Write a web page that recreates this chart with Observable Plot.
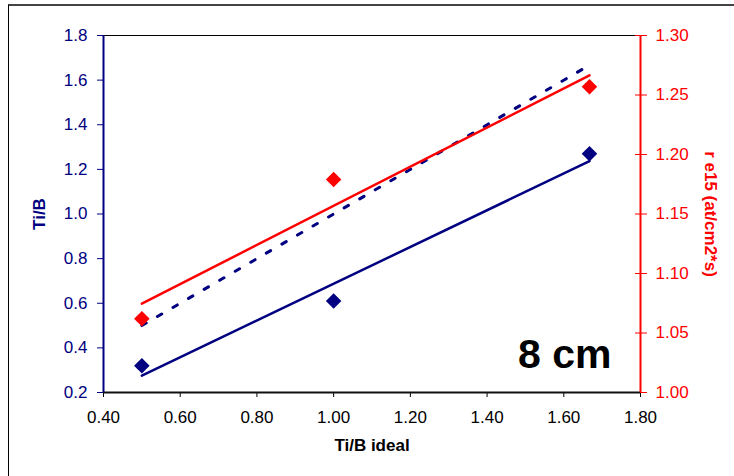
<!DOCTYPE html>
<html>
<head>
<meta charset="utf-8">
<script src="https://cdn.jsdelivr.net/npm/d3@7"></script>
<script src="https://cdn.jsdelivr.net/npm/@observablehq/plot@0.6"></script>
<style>
  html, body { margin: 0; padding: 0; background: #fff; }
  #wrap { position: relative; width: 734px; height: 476px; overflow: hidden; }
  #frame { position: absolute; left: 8px; top: 4px; width: 760px; height: 500px;
           border-top: 2px solid #444; border-left: 1.5px solid #000; box-sizing: border-box; pointer-events: none; }
  #chart { position: absolute; left: 0; top: 0; }
</style>
</head>
<body>
<div id="wrap"><div id="chart"></div><div id="frame"></div></div>
<script>
// ---- data ----
const tiBIdeal = [0.5, 1.0, 1.667];          // x: Ti/B ideal
const tiB      = [0.32, 0.61, 1.27];         // left axis: Ti/B
const re15     = [1.062, 1.179, 1.257];      // right axis: r e15 (at/cm2*s)
const xTicks     = [0.4, 0.6, 0.8, 1.0, 1.2, 1.4, 1.6, 1.8];
const leftTicks  = [0.2, 0.4, 0.6, 0.8, 1.0, 1.2, 1.4, 1.6, 1.8];
const rightTicks = [1.00, 1.05, 1.10, 1.15, 1.20, 1.25, 1.30];

const NAVY = "#000080", RED = "#ff0000";
const leftDomain = [leftTicks[0], leftTicks[leftTicks.length - 1]];
const rightDomain = [rightTicks[0], rightTicks[rightTicks.length - 1]];
const xDomain = [xTicks[0], xTicks[xTicks.length - 1]];
const toLeft = v => leftDomain[0] + (v - rightDomain[0]) / (rightDomain[1] - rightDomain[0]) * (leftDomain[1] - leftDomain[0]);
const fromLeft = v => rightDomain[0] + (v - leftDomain[0]) / (leftDomain[1] - leftDomain[0]) * (rightDomain[1] - rightDomain[0]);

const rows = tiBIdeal.map((x, i) => ({x, tib: tiB[i], re: toLeft(re15[i])}));
const F = "'Liberation Sans', Arial, sans-serif";

const chart = Plot.plot({
  width: 734, height: 476,
  marginLeft: 103, marginRight: 94, marginTop: 35, marginBottom: 84,
  style: {fontFamily: F, fontSize: "17px", background: "white"},
  x: {domain: xDomain},
  y: {domain: leftDomain},
  marks: [
    // plot area top border
    Plot.ruleY([leftDomain[1]], {stroke: "#000", strokeWidth: 1}),
    // ideal line (dotted)
    Plot.line(rows, {x: "x", y: "x", stroke: NAVY, strokeWidth: 3, strokeDasharray: "5,13"}),
    // trend lines
    Plot.linearRegressionY(rows, {x: "x", y: "tib", stroke: NAVY, strokeWidth: 2.5, ci: 0}),
    Plot.linearRegressionY(rows, {x: "x", y: "re", stroke: RED, strokeWidth: 2.5, ci: 0}),
    // markers
    Plot.dot(rows, {x: "x", y: "tib", symbol: "diamond2", r: 7, fill: NAVY}),
    Plot.dot(rows, {x: "x", y: "re", symbol: "diamond2", r: 7, fill: RED}),
    // axes
    Plot.axisX(xTicks, {tickFormat: d3.format(".2f"), tickSize: 5, tickPadding: 13, color: "#000", label: null, fontSize: 17}),
    Plot.axisY(leftTicks, {anchor: "left", tickFormat: d3.format(".1f"), tickSize: 6, tickPadding: 10, color: NAVY, label: null, fontSize: 17}),
    Plot.axisY(rightTicks.map(toLeft), {anchor: "right", tickFormat: d => d3.format(".2f")(fromLeft(d)), tickSize: 6, tickPadding: 9, color: RED, label: null, fontSize: 17}),
    Plot.axisY(rightTicks.map(toLeft), {anchor: "right", tickSize: -6, tickFormat: () => "", color: RED, label: null}),
    Plot.ruleX([xDomain[0]], {stroke: NAVY, strokeWidth: 2}),
    Plot.ruleY([leftDomain[0]], {stroke: "#111", strokeWidth: 2}),
    Plot.ruleX([xDomain[1]], {stroke: RED, strokeWidth: 2}),
    // titles
    Plot.text(["Ti/B"], {frameAnchor: "left", dx: -64, rotate: -90, textAnchor: "middle", fill: NAVY, fontWeight: "bold", fontSize: 17}),
    Plot.text(["r e15 (at/cm2*s)"], {frameAnchor: "right", dx: 70, rotate: 90, textAnchor: "middle", fill: RED, fontWeight: "bold", fontSize: 17}),
    Plot.text(["Ti/B ideal"], {frameAnchor: "bottom", dy: 58, fill: "#000", fontWeight: "bold", fontSize: 17}),
    Plot.text(["8 cm"], {frameAnchor: "bottom-right", dx: -29, dy: -25, textAnchor: "end", lineAnchor: "bottom", fill: "#000", fontWeight: "bold", fontSize: 41})
  ]
});
document.getElementById("chart").appendChild(chart);
</script>
</body>
</html>
